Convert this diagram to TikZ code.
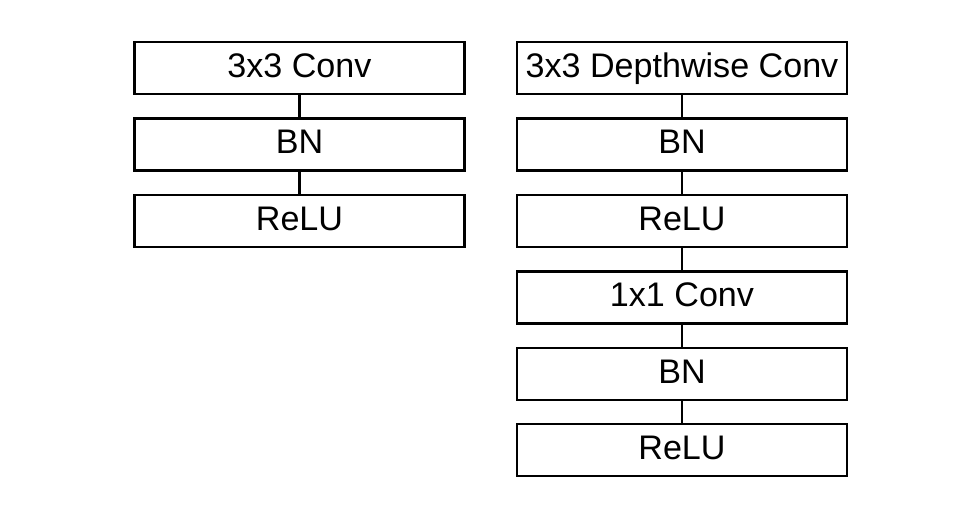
\documentclass[tikz,border=0pt]{standalone}
\usepackage{fontspec}
\setmainfont{Liberation Sans}

\begin{document}
\begin{tikzpicture}
  [every node/.style={draw,line width=0.6pt,minimum width=3.30cm,minimum height=0.52cm,
    inner sep=0pt,text height=0.72em,text depth=0.2em,font=\fontsize{9.7pt}{11pt}\selectfont}]
  \useasboundingbox (0,0) rectangle (9.72,5.04);
  % standard convolution
  \node (sconv) at (2.995,4.36) {3x3 Conv};
  \node (sbn) at (2.995,3.595) {BN};
  \node (srelu) at (2.995,2.83) {ReLU};
  % depthwise separable convolution
  \node (dconv) at (6.82,4.36) {3x3 Depthwise Conv};
  \node (dbn) at (6.82,3.595) {BN};
  \node (drelu) at (6.82,2.83) {ReLU};
  \node (pconv) at (6.82,2.065) {1x1 Conv};
  \node (pbn) at (6.82,1.30) {BN};
  \node (prelu) at (6.82,0.54) {ReLU};
    \foreach \from/\to in {sconv/sbn,sbn/srelu,dconv/dbn,dbn/drelu,drelu/pconv,pconv/pbn,pbn/prelu}
    \draw[line width=0.6pt] (\from) -- (\to);
  \end{tikzpicture}
\end{document}
